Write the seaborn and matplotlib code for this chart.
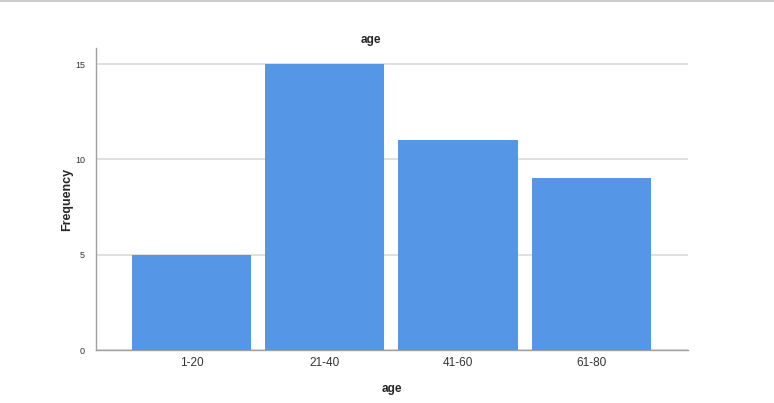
import matplotlib.pyplot as plt
import seaborn as sns
import pandas as pd
from matplotlib.lines import Line2D

categories = ['1-20', '21-40', '41-60', '61-80']
frequency = [5, 15, 11, 9]

sns.set_style('white')
plt.rcParams['font.family'] = ['Liberation Sans', 'DejaVu Sans']

df = pd.DataFrame({'age': categories, 'Frequency': frequency})

fig = plt.figure(figsize=(7.74, 4.03), dpi=100)
ax = fig.add_axes([96 / 774, 53 / 403, 592 / 774, 302 / 403])

sns.barplot(data=df, x='age', y='Frequency', color='#5596E6', saturation=1,
            width=0.895, ax=ax, zorder=3, linewidth=0)

ax.set_xlim(-0.716, 3.725)
ax.set_ylim(0, 15.84)
ax.set_yticks([0, 5, 10, 15])
ax.yaxis.grid(True, color='#DADADA', linewidth=1.2, zorder=0)
ax.set_axisbelow(True)

for side in ['top', 'right']:
    ax.spines[side].set_visible(False)
for side in ['left', 'bottom']:
    ax.spines[side].set_color('#A0A0A0')
    ax.spines[side].set_linewidth(1)

ax.tick_params(axis='y', length=0, labelsize=6.5, pad=8, labelcolor='#333333')
ax.tick_params(axis='x', length=0, labelsize=8.5, pad=5, labelcolor='#333333')

# title in the original sits a little left of the axes centre
ax.set_title('age', fontsize=8.5, fontweight='bold', pad=3.5, x=0.4645)
ax.set_xlabel('age', fontsize=8.5, fontweight='bold', labelpad=10)
ax.set_ylabel('Frequency', fontsize=9, fontweight='bold', labelpad=1)

fig.add_artist(Line2D([0, 1], [0.998, 0.998], color='#CCCCCC', linewidth=1.5,
                      transform=fig.transFigure))

fig.savefig('out.png', dpi=100)
